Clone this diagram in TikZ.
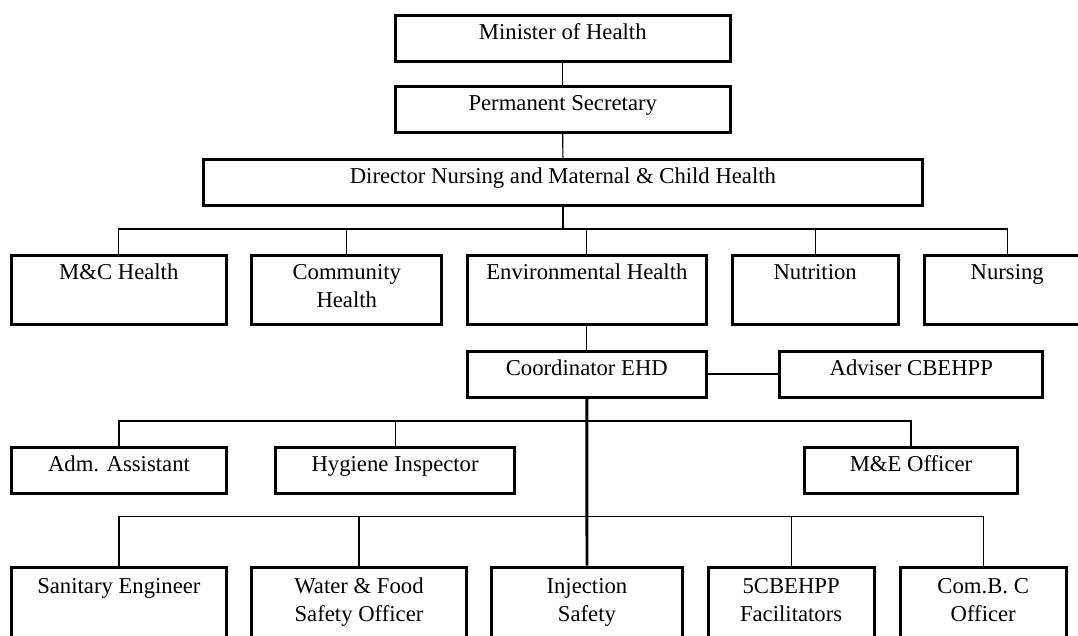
\documentclass[tikz,border=0pt]{standalone}
\usepackage{fontspec}
\setmainfont{Liberation Serif}
\newcommand\stacklines[2]{\begin{tabular}[t]{@{}c@{}}#1\\#2\end{tabular}}
\begin{document}
\begin{tikzpicture}[x=1pt,y=-1pt,
  box/.style={draw=black, line width=3pt, rectangle, anchor=north,
    inner xsep=0pt, inner ysep=0pt, text height=24.5pt,
    font=\fontsize{22.7}{28}\selectfont},
  short/.style={box, minimum height=46pt, text depth=21.5pt},
  tall/.style={box, minimum height=69pt, text depth=44.5pt},
  tallcut/.style={box, minimum height=78pt, text depth=53.5pt, text height=26pt},
  conn/.style={draw=black, line width=1.2pt},
  mainconn/.style={draw=black, line width=2.8pt}]
\clip (0,0) rectangle (1078,635);

% top of the hierarchy
\node[short, minimum width=335.3pt] (min) at (562.75,13.5) {Minister of Health};
\node[short, minimum width=335.3pt] (ps) at (562.75,84.8) {Permanent Secretary};
\node[short, minimum width=719.2pt] (dir) at (562.9,157.5) {Director Nursing and Maternal \& Child Health};

% divisions
\node[tall, minimum width=214.6pt] (mc) at (118.8,253.5) {M\&C Health};
\node[tall, minimum width=189.9pt] (com) at (346.75,253.5) {\stacklines{Community}{Health}};
\node[tall, minimum width=238.9pt] (env) at (586.85,253.5) {Environmental Health};
\node[tall, minimum width=165.7pt] (nut) at (815.15,253.5) {Nutrition};
\node[tall, minimum width=166pt] (nur) at (1007.2,253.5) {Nursing};

% environmental health unit
\node[short, minimum width=238.9pt] (coord) at (586.85,349.5) {Coordinator EHD};
\node[short, minimum width=262.8pt] (adv) at (911.3,349.5) {Adviser CBEHPP};

\node[short, minimum width=215pt] (adm) at (119,445.5) {Adm. Assistant};
\node[short, minimum width=238.4pt] (hyg) at (395.1,445.5) {Hygiene Inspector};
\node[short, minimum width=213.9pt] (me) at (911,445.5) {M\&E Officer};

\node[tallcut, minimum width=214.7pt] (san) at (118.9,565.5) {Sanitary Engineer};
\node[tallcut, minimum width=214.3pt] (wat) at (359,565.5) {\stacklines{Water \& Food}{Safety Officer}};
\node[tallcut, minimum width=190.7pt] (inj) at (586.9,565.5) {\stacklines{Injection}{Safety}};
\node[tallcut, minimum width=165.9pt] (cbe) at (791.1,565.5) {\stacklines{5CBEHPP}{Facilitators}};
\node[tallcut, minimum width=165.7pt] (cbc) at (983.2,565.5) {\stacklines{Com.B. C}{Officer}};

% bus lines
\coordinate (busA) at (562.9,229);
\coordinate (busB) at (586.9,421);
\coordinate (busC) at (586.9,516.3);

% connectors
\draw[conn] (min.south) -- (ps.north);
\draw[conn] (ps.south) -- (dir.north);
\draw[mainconn] (dir.south) -- (busA);
\draw[conn] (mc.north) |- (busA) -| (nur.north);
\draw[conn] (com.north) -- (com.north |- busA);
\draw[conn] (env.north) -- (env.north |- busA);
\draw[conn] (nut.north) -- (nut.north |- busA);

\draw[conn] (env.south) -- (coord.north);
\draw[conn] (coord.east) -- (adv.west);
\draw[mainconn] (coord.south) -- (inj.north);

\draw[conn] (adm.north) |- (busB) -| (me.north);
\draw[conn] (hyg.north) -- (hyg.north |- busB);

\draw[conn] (san.north) |- (busC) -| (cbc.north);
\draw[conn] (wat.north) -- (wat.north |- busC);
\draw[conn] (cbe.north) -- (cbe.north |- busC);
\end{tikzpicture}
\end{document}
